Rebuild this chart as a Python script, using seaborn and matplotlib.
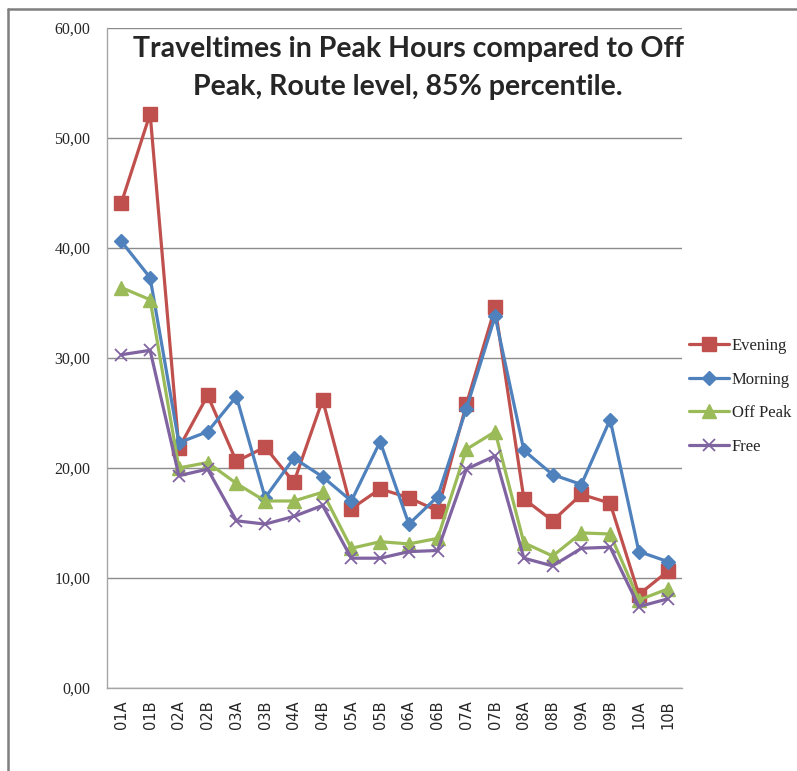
import numpy as np
import pandas as pd
import matplotlib
matplotlib.use("Agg")
import matplotlib.pyplot as plt
import seaborn as sns
from matplotlib.ticker import FuncFormatter, FixedLocator
from matplotlib.lines import Line2D

# -------- data --------
routes = ["01A", "01B", "02A", "02B", "03A", "03B", "04A", "04B", "05A", "05B",
          "06A", "06B", "07A", "07B", "08A", "08B", "09A", "09B", "10A", "10B"]
evening = [44.1, 52.2, 21.8, 26.6, 20.6, 21.9, 18.7, 26.2, 16.3, 18.1,
           17.3, 16.1, 25.8, 34.6, 17.2, 15.2, 17.6, 16.8, 8.5, 10.6]
morning = [40.6, 37.3, 22.3, 23.3, 26.5, 17.3, 20.9, 19.2, 17.0, 22.4,
           14.9, 17.4, 25.4, 33.8, 21.6, 19.4, 18.5, 24.4, 12.4, 11.5]
off_peak = [36.4, 35.3, 20.0, 20.5, 18.6, 17.0, 17.0, 17.8, 12.7, 13.3,
            13.1, 13.6, 21.7, 23.3, 13.2, 12.0, 14.1, 14.0, 8.0, 9.0]
free = [30.3, 30.7, 19.3, 19.9, 15.2, 14.9, 15.6, 16.6, 11.8, 11.8,
        12.4, 12.5, 19.9, 21.1, 11.8, 11.1, 12.7, 12.8, 7.4, 8.1]
y_ticks = [0, 10, 20, 30, 40, 50, 60]
title = "Traveltimes in Peak Hours compared to Off\nPeak, Route level, 85% percentile."

sns.set_style("white")

fig = plt.figure(figsize=(7.97, 7.71), dpi=100)
ax = fig.add_axes([107 / 797, 1 - 688 / 771, (682 - 107) / 797, (688 - 28) / 771])

x = np.arange(len(routes))
series = [
    ("Evening", evening, "#C0504D", "s", 10, 1.0),
    ("Morning", morning, "#4F81BD", "D", 7.5, 1.0),
    ("Off Peak", off_peak, "#9BBB59", "^", 9.5, 1.0),
    ("Free", free, "#8064A2", "x", 9, 1.3),
]
for name, vals, col, mk, ms, mew in series:
    sns.lineplot(x=x, y=vals, ax=ax, color=col, marker=mk, markersize=ms,
                 markeredgewidth=mew, markeredgecolor=col, linewidth=2.3,
                 label=name, legend=False)

# axes styling
ax.set_xlim(-0.5, len(routes) - 0.5)
ax.set_ylim(0, 60)
ax.yaxis.set_major_locator(FixedLocator(y_ticks))
ax.yaxis.set_major_formatter(FuncFormatter(lambda v, p: f"{v:.2f}".replace(".", ",")))
ax.grid(axis="y", color="#8c8c8c", linewidth=1.0)
ax.set_axisbelow(True)
for s in ["top", "right"]:
    ax.spines[s].set_visible(False)
for s in ["left", "bottom"]:
    ax.spines[s].set_color("#a6a6a6")
    ax.spines[s].set_linewidth(1.0)

ax.set_xticks(x)
ax.set_xticklabels(routes, rotation=90, fontsize=10.5, family="DejaVu Sans")
ax.set_xticks(np.arange(-0.5, len(routes)), minor=True)
ax.tick_params(axis="x", which="major", length=0, pad=9)
ax.tick_params(axis="x", which="minor", length=5, color="#a6a6a6", direction="out")
ax.tick_params(axis="y", length=5, color="#a6a6a6", direction="out", pad=7)
for lab in ax.get_yticklabels():
    lab.set_family("Liberation Serif")
    lab.set_fontsize(11.5)
ax.set_xlabel("")
ax.set_ylabel("")

# title
fig.text(0.512, 1 - 68 / 771, title, ha="center", va="center", fontsize=20.5,
         fontweight="bold", family="Lato", linespacing=1.6)

# legend
handles, labels = ax.get_legend_handles_labels()
fig.legend(handles, labels, loc="upper left", bbox_to_anchor=(674 / 797, 1 - 323 / 771),
           frameon=False, handlelength=2.4, handletextpad=0.15, labelspacing=1.05,
           prop={"family": "Liberation Serif", "size": 12})

# outer frame
fig.add_artist(Line2D([8 / 797, 8 / 797], [0, 1 - 9 / 771], color="#7f7f7f", linewidth=1.8))
fig.add_artist(Line2D([8 / 797, 1], [1 - 9 / 771, 1 - 9 / 771], color="#7f7f7f", linewidth=1.8))

fig.savefig("out.png", dpi=100)
